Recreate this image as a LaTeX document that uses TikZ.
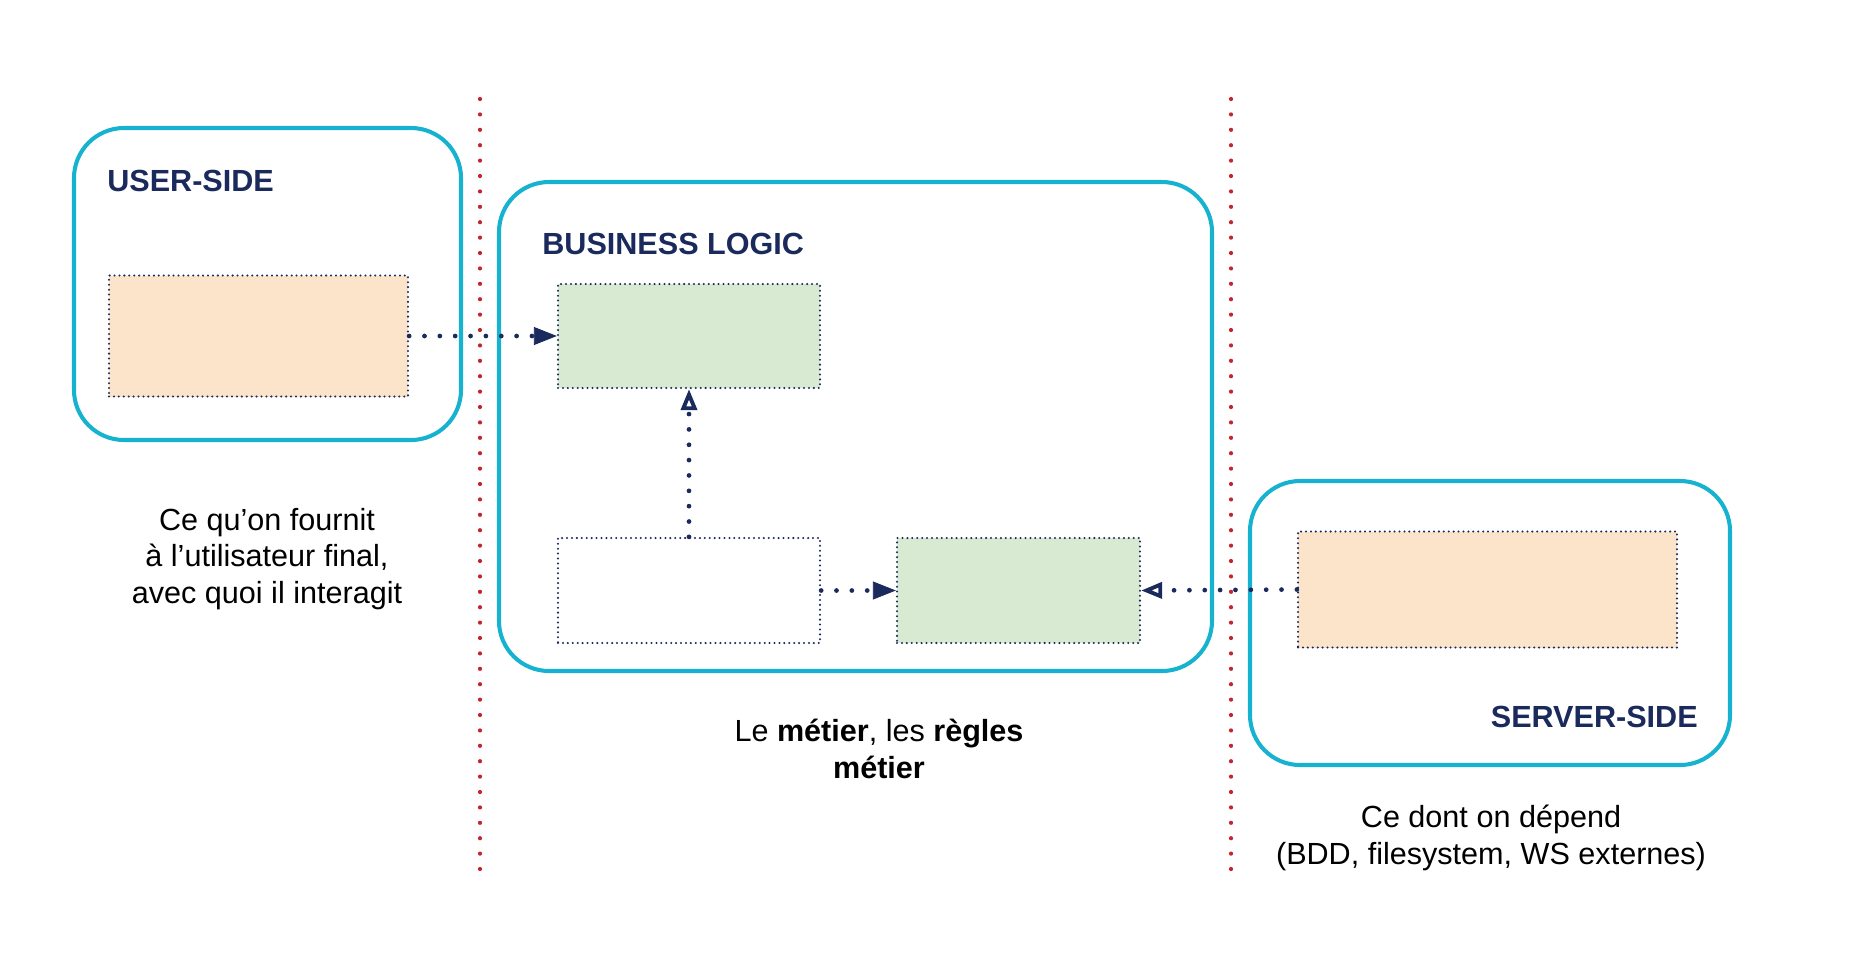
\documentclass[tikz,border=0pt]{standalone}
\usepackage{fontspec}
\setmainfont{Liberation Sans}
\usepackage{xcolor}
\usetikzlibrary{arrows.meta,positioning}
\definecolor{zonecyan}{RGB}{22,178,208}
\definecolor{navy}{RGB}{27,42,92}
\definecolor{sepred}{RGB}{192,39,45}
\definecolor{peach}{RGB}{252,228,202}
\definecolor{mint}{RGB}{217,234,211}
\newcommand{\diagfont}{\fontsize{17.4}{21}\selectfont}

\begin{document}
\begin{tikzpicture}[
  zone/.style={draw=zonecyan, line width=2.3pt, rounded corners=1cm, inner sep=0pt},
  cell/.style={draw=navy, line width=1.3pt, dash pattern=on 0pt off 2.8pt, line cap=round, inner sep=0pt},
  zonetitle/.style={font=\diagfont\bfseries, text=navy, inner sep=0pt},
  caption/.style={font=\diagfont, align=center, inner sep=0pt},
  sep/.style={draw=sepred, line width=2.4pt, dash pattern=on 0pt off 0.308cm, line cap=round},
  link/.style={draw=navy, line width=2.7pt, dash pattern=on 0pt off 0.307cm, line cap=round},
  fullarrow/.style={link, -{Triangle[length=0.46cm, width=0.36cm, line width=0.5pt]}},
  openarrow/.style={link, -{Triangle[open, length=0.42cm, width=0.32cm, line width=2.2pt]}}
]
\useasboundingbox (0,0) rectangle (37.26,-19.56);

% zones
\node[zone, minimum width=7.74cm, minimum height=6.24cm] (usr) at (5.35,-5.68) {};
\node[zone, minimum width=14.26cm, minimum height=9.78cm] (biz) at (17.11,-8.53) {};
\node[zone, minimum width=9.6cm, minimum height=5.68cm] (srv) at (29.8,-12.46) {};

\node[zonetitle, anchor=base west] (usrtitle) at (2.14,-3.82) {USER-SIDE};
\node[zonetitle, anchor=base west] (biztitle) at (10.84,-5.08) {BUSINESS LOGIC};
\node[zonetitle, anchor=base east] (srvtitle) at (33.96,-14.54) {SERVER-SIDE};

% inner boxes
\node[cell, fill=peach, minimum width=5.98cm, minimum height=2.42cm] (usrinner) at (5.17,-6.72) {};
\node[cell, fill=mint, minimum width=5.24cm, minimum height=2.08cm] (bizA) at (13.78,-6.72) {};
\node[cell, fill=white, minimum width=5.24cm, minimum height=2.10cm] (bizB) at (13.78,-11.81) {};
\node[cell, fill=mint, minimum width=4.86cm, minimum height=2.10cm] (bizC) at (20.37,-11.81) {};
\node[cell, fill=peach, minimum width=7.58cm, minimum height=2.32cm] (srvinner) at (29.75,-11.79) {};

% separators
\coordinate (sepAtop) at (9.6,-1.98);
\coordinate (sepAbot) at (9.6,-17.38);
\coordinate (sepBtop) at (24.62,-1.98);
\coordinate (sepBbot) at (24.62,-17.38);
\draw[sep] (sepAtop) -- (sepAbot);
\draw[sep] (sepBtop) -- (sepBbot);

% links
\draw[fullarrow] (usrinner.east) -- (bizA.west);
\draw[openarrow] (bizB.north) -- (bizA.south);
\draw[fullarrow] (bizB.east) -- (bizC.west);
\draw[openarrow] (srvinner.west) -- (bizC.east);

% captions
\node[caption] (usrcap) at (5.34,-11.18) {Ce qu’on fournit\\à l’utilisateur final,\\avec quoi il interagit};
\node[caption] (bizcap) at (17.58,-14.97) {Le \textbf{métier}, les \textbf{règles}\\\textbf{métier}};
\node[caption] (srvcap) at (29.82,-16.75) {Ce dont on dépend\\(BDD, filesystem, WS externes)};

\end{tikzpicture}
\end{document}
